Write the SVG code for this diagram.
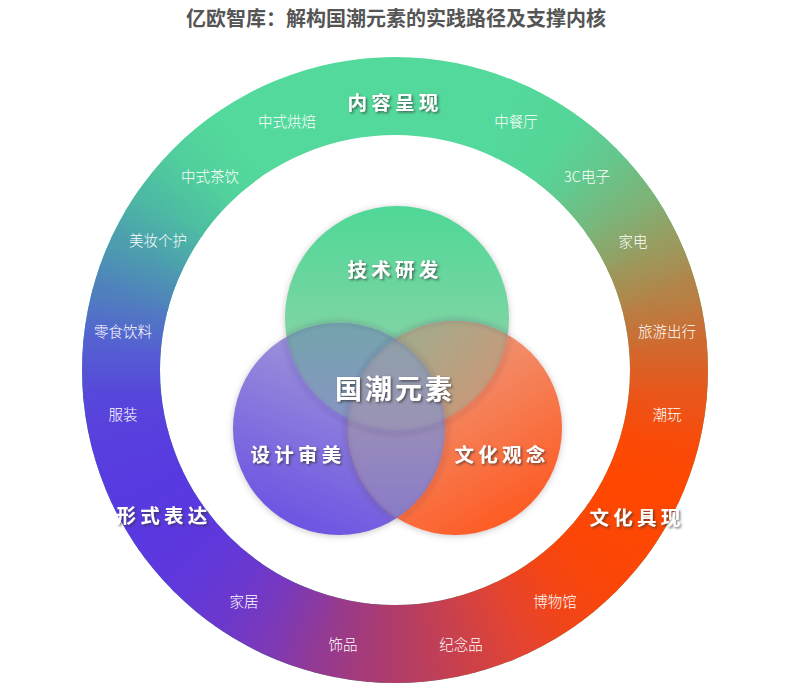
<svg xmlns="http://www.w3.org/2000/svg" width="791" height="693" viewBox="0 0 791 693">
<style>
.title{font-family:"Noto Sans CJK SC","Liberation Sans",sans-serif;font-weight:700;font-size:20px;fill:#555;}
.item{font-family:"Noto Sans CJK SC","Liberation Sans",sans-serif;font-weight:300;font-size:14.5px;fill:#fff;}
.sec{font-family:"Noto Sans CJK SC","Liberation Sans",sans-serif;font-weight:700;font-size:19.5px;fill:#fff;letter-spacing:4.3px;}
.core{font-family:"Noto Sans CJK SC","Liberation Sans",sans-serif;font-weight:700;font-size:27px;fill:#fff;letter-spacing:3px;}
text{text-anchor:middle;dominant-baseline:central;}
.edge{fill:none;stroke:#2a2a40;stroke-opacity:0.12;stroke-width:4;}
</style>
<defs>
<path id="w" d="M395,370 L365.4,51.4 L424.6,51.4 Z"/>
<clipPath id="ringClip"><path clip-rule="evenodd" d="M82,370 A313,313 0 1,0 708,370 A313,313 0 1,0 82,370 Z M160,370 A235,235 0 1,0 630,370 A235,235 0 1,0 160,370 Z"/></clipPath>
<linearGradient id="g30" gradientUnits="userSpaceOnUse" x1="371" y1="0" x2="419" y2="0"><stop offset="0" stop-color="#54D79A"/><stop offset="1" stop-color="#55D699"/></linearGradient>
<linearGradient id="g40" gradientUnits="userSpaceOnUse" x1="371" y1="0" x2="419" y2="0"><stop offset="0" stop-color="#55D699"/><stop offset="1" stop-color="#64C88E"/></linearGradient>
<linearGradient id="g50" gradientUnits="userSpaceOnUse" x1="371" y1="0" x2="419" y2="0"><stop offset="0" stop-color="#64C88E"/><stop offset="1" stop-color="#7CB479"/></linearGradient>
<linearGradient id="g60" gradientUnits="userSpaceOnUse" x1="371" y1="0" x2="419" y2="0"><stop offset="0" stop-color="#7CB479"/><stop offset="1" stop-color="#999B5F"/></linearGradient>
<linearGradient id="g70" gradientUnits="userSpaceOnUse" x1="371" y1="0" x2="419" y2="0"><stop offset="0" stop-color="#999B5F"/><stop offset="1" stop-color="#B68146"/></linearGradient>
<linearGradient id="g80" gradientUnits="userSpaceOnUse" x1="371" y1="0" x2="419" y2="0"><stop offset="0" stop-color="#B68146"/><stop offset="1" stop-color="#D1692F"/></linearGradient>
<linearGradient id="g90" gradientUnits="userSpaceOnUse" x1="371" y1="0" x2="419" y2="0"><stop offset="0" stop-color="#D1692F"/><stop offset="1" stop-color="#E8561B"/></linearGradient>
<linearGradient id="g100" gradientUnits="userSpaceOnUse" x1="371" y1="0" x2="419" y2="0"><stop offset="0" stop-color="#E8561B"/><stop offset="1" stop-color="#FA4A08"/></linearGradient>
<linearGradient id="g110" gradientUnits="userSpaceOnUse" x1="371" y1="0" x2="419" y2="0"><stop offset="0" stop-color="#FA4A08"/><stop offset="1" stop-color="#FF4700"/></linearGradient>
<linearGradient id="g120" gradientUnits="userSpaceOnUse" x1="371" y1="0" x2="419" y2="0"><stop offset="0" stop-color="#FF4700"/><stop offset="1" stop-color="#FD4704"/></linearGradient>
<linearGradient id="g130" gradientUnits="userSpaceOnUse" x1="371" y1="0" x2="419" y2="0"><stop offset="0" stop-color="#FD4704"/><stop offset="1" stop-color="#FA4608"/></linearGradient>
<linearGradient id="g140" gradientUnits="userSpaceOnUse" x1="371" y1="0" x2="419" y2="0"><stop offset="0" stop-color="#FA4608"/><stop offset="1" stop-color="#F24517"/></linearGradient>
<linearGradient id="g150" gradientUnits="userSpaceOnUse" x1="371" y1="0" x2="419" y2="0"><stop offset="0" stop-color="#F24517"/><stop offset="1" stop-color="#E44430"/></linearGradient>
<linearGradient id="g160" gradientUnits="userSpaceOnUse" x1="371" y1="0" x2="419" y2="0"><stop offset="0" stop-color="#E44430"/><stop offset="1" stop-color="#CE4147"/></linearGradient>
<linearGradient id="g170" gradientUnits="userSpaceOnUse" x1="371" y1="0" x2="419" y2="0"><stop offset="0" stop-color="#CE4147"/><stop offset="1" stop-color="#BA3E5E"/></linearGradient>
<linearGradient id="g180" gradientUnits="userSpaceOnUse" x1="371" y1="0" x2="419" y2="0"><stop offset="0" stop-color="#BA3E5E"/><stop offset="1" stop-color="#A73B76"/></linearGradient>
<linearGradient id="g190" gradientUnits="userSpaceOnUse" x1="371" y1="0" x2="419" y2="0"><stop offset="0" stop-color="#A73B76"/><stop offset="1" stop-color="#933A93"/></linearGradient>
<linearGradient id="g200" gradientUnits="userSpaceOnUse" x1="371" y1="0" x2="419" y2="0"><stop offset="0" stop-color="#933A93"/><stop offset="1" stop-color="#7C39B8"/></linearGradient>
<linearGradient id="g210" gradientUnits="userSpaceOnUse" x1="371" y1="0" x2="419" y2="0"><stop offset="0" stop-color="#7C39B8"/><stop offset="1" stop-color="#6B38CD"/></linearGradient>
<linearGradient id="g220" gradientUnits="userSpaceOnUse" x1="371" y1="0" x2="419" y2="0"><stop offset="0" stop-color="#6B38CD"/><stop offset="1" stop-color="#6038DB"/></linearGradient>
<linearGradient id="g230" gradientUnits="userSpaceOnUse" x1="371" y1="0" x2="419" y2="0"><stop offset="0" stop-color="#6038DB"/><stop offset="1" stop-color="#5B38E0"/></linearGradient>
<linearGradient id="g240" gradientUnits="userSpaceOnUse" x1="371" y1="0" x2="419" y2="0"><stop offset="0" stop-color="#5B38E0"/><stop offset="1" stop-color="#583AE1"/></linearGradient>
<linearGradient id="g250" gradientUnits="userSpaceOnUse" x1="371" y1="0" x2="419" y2="0"><stop offset="0" stop-color="#583AE1"/><stop offset="1" stop-color="#583EDE"/></linearGradient>
<linearGradient id="g260" gradientUnits="userSpaceOnUse" x1="371" y1="0" x2="419" y2="0"><stop offset="0" stop-color="#583EDE"/><stop offset="1" stop-color="#5747DA"/></linearGradient>
<linearGradient id="g270" gradientUnits="userSpaceOnUse" x1="371" y1="0" x2="419" y2="0"><stop offset="0" stop-color="#5747DA"/><stop offset="1" stop-color="#5560D2"/></linearGradient>
<linearGradient id="g280" gradientUnits="userSpaceOnUse" x1="371" y1="0" x2="419" y2="0"><stop offset="0" stop-color="#5560D2"/><stop offset="1" stop-color="#507FBE"/></linearGradient>
<linearGradient id="g290" gradientUnits="userSpaceOnUse" x1="371" y1="0" x2="419" y2="0"><stop offset="0" stop-color="#507FBE"/><stop offset="1" stop-color="#4C9EAE"/></linearGradient>
<linearGradient id="g300" gradientUnits="userSpaceOnUse" x1="371" y1="0" x2="419" y2="0"><stop offset="0" stop-color="#4C9EAE"/><stop offset="1" stop-color="#4DBBA3"/></linearGradient>
<linearGradient id="g310" gradientUnits="userSpaceOnUse" x1="371" y1="0" x2="419" y2="0"><stop offset="0" stop-color="#4DBBA3"/><stop offset="1" stop-color="#51CF9C"/></linearGradient>
<linearGradient id="g320" gradientUnits="userSpaceOnUse" x1="371" y1="0" x2="419" y2="0"><stop offset="0" stop-color="#51CF9C"/><stop offset="1" stop-color="#53D99B"/></linearGradient>

<linearGradient id="gGreen" x1="0" y1="0" x2="0" y2="1"><stop offset="0" stop-color="#4ED897"/><stop offset="0.5" stop-color="#78D5A2"/><stop offset="1" stop-color="#9CDAB5"/></linearGradient>
<linearGradient id="gPurple" x1="0.6" y1="0" x2="0.2" y2="1"><stop offset="0" stop-color="#A49ED8"/><stop offset="1" stop-color="#6A4EE3"/></linearGradient>
<linearGradient id="gOrange" x1="0.2" y1="0" x2="0.8" y2="1"><stop offset="0" stop-color="#ECA890"/><stop offset="1" stop-color="#FF561C"/></linearGradient>
<linearGradient id="lGP" gradientUnits="userSpaceOnUse" x1="0" y1="325" x2="0" y2="430"><stop offset="0" stop-color="#74A4AC"/><stop offset="1" stop-color="#8A94C6"/></linearGradient>
<linearGradient id="lGO" gradientUnits="userSpaceOnUse" x1="430" y1="330" x2="505" y2="400"><stop offset="0" stop-color="#A8A98A"/><stop offset="1" stop-color="#CE9676"/></linearGradient>
<linearGradient id="lPO" gradientUnits="userSpaceOnUse" x1="0" y1="420" x2="0" y2="530"><stop offset="0" stop-color="#9A8EB8"/><stop offset="1" stop-color="#8878CC"/></linearGradient>
<linearGradient id="lT" gradientUnits="userSpaceOnUse" x1="0" y1="330" x2="0" y2="430"><stop offset="0" stop-color="#8EA2A8"/><stop offset="1" stop-color="#9A92B6"/></linearGradient>

<clipPath id="cG"><circle cx="397" cy="318" r="112"/></clipPath>
<clipPath id="cP"><circle cx="339" cy="429" r="106"/></clipPath>
<clipPath id="cPO"><circle cx="339" cy="429" r="106"/><circle cx="455" cy="428" r="107"/></clipPath>
<clipPath id="cGO"><circle cx="397" cy="318" r="112"/><circle cx="455" cy="428" r="107"/></clipPath>
<clipPath id="cGP"><circle cx="397" cy="318" r="112"/><circle cx="339" cy="429" r="106"/></clipPath>

<filter id="cs" x="-20%" y="-20%" width="140%" height="140%">
<feGaussianBlur in="SourceAlpha" stdDeviation="3" result="b"/>
<feOffset in="b" dx="0" dy="1" result="o"/>
<feColorMatrix in="o" type="matrix" values="0 0 0 0 0.3  0 0 0 0 0.25  0 0 0 0 0.25  0 0 0 0.5 0" result="sc"/>
<feMerge><feMergeNode in="sc"/><feMergeNode in="SourceGraphic"/></feMerge>
</filter>
<filter id="eb" x="-10%" y="-10%" width="120%" height="120%"><feGaussianBlur stdDeviation="2.5"/></filter>
<filter id="ts" x="-10%" y="-30%" width="130%" height="170%"><feDropShadow dx="1.5" dy="1.5" stdDeviation="0.8" flood-color="#333" flood-opacity="0.7"/></filter>
</defs>

<rect width="791" height="693" fill="#fff"/>
<text class="title" x="396" y="17">亿欧智库：解构国潮元素的实践路径及支撑内核</text>

<g id="ring" clip-path="url(#ringClip)">
<circle cx="395" cy="370" r="320" fill="#53D99B"/>
<use href="#w" fill="url(#g30)" transform="rotate(30 395 370)"/>
<use href="#w" fill="url(#g40)" transform="rotate(40 395 370)"/>
<use href="#w" fill="url(#g50)" transform="rotate(50 395 370)"/>
<use href="#w" fill="url(#g60)" transform="rotate(60 395 370)"/>
<use href="#w" fill="url(#g70)" transform="rotate(70 395 370)"/>
<use href="#w" fill="url(#g80)" transform="rotate(80 395 370)"/>
<use href="#w" fill="url(#g90)" transform="rotate(90 395 370)"/>
<use href="#w" fill="url(#g100)" transform="rotate(100 395 370)"/>
<use href="#w" fill="url(#g110)" transform="rotate(110 395 370)"/>
<use href="#w" fill="url(#g120)" transform="rotate(120 395 370)"/>
<use href="#w" fill="url(#g130)" transform="rotate(130 395 370)"/>
<use href="#w" fill="url(#g140)" transform="rotate(140 395 370)"/>
<use href="#w" fill="url(#g150)" transform="rotate(150 395 370)"/>
<use href="#w" fill="url(#g160)" transform="rotate(160 395 370)"/>
<use href="#w" fill="url(#g170)" transform="rotate(170 395 370)"/>
<use href="#w" fill="url(#g180)" transform="rotate(180 395 370)"/>
<use href="#w" fill="url(#g190)" transform="rotate(190 395 370)"/>
<use href="#w" fill="url(#g200)" transform="rotate(200 395 370)"/>
<use href="#w" fill="url(#g210)" transform="rotate(210 395 370)"/>
<use href="#w" fill="url(#g220)" transform="rotate(220 395 370)"/>
<use href="#w" fill="url(#g230)" transform="rotate(230 395 370)"/>
<use href="#w" fill="url(#g240)" transform="rotate(240 395 370)"/>
<use href="#w" fill="url(#g250)" transform="rotate(250 395 370)"/>
<use href="#w" fill="url(#g260)" transform="rotate(260 395 370)"/>
<use href="#w" fill="url(#g270)" transform="rotate(270 395 370)"/>
<use href="#w" fill="url(#g280)" transform="rotate(280 395 370)"/>
<use href="#w" fill="url(#g290)" transform="rotate(290 395 370)"/>
<use href="#w" fill="url(#g300)" transform="rotate(300 395 370)"/>
<use href="#w" fill="url(#g310)" transform="rotate(310 395 370)"/>
<use href="#w" fill="url(#g320)" transform="rotate(320 395 370)"/>
</g>

<g id="sec-content">
<text class="sec" x="395" y="101" filter="url(#ts)">内容呈现</text>
<text class="item" x="287" y="120">中式烘焙</text>
<text class="item" x="516" y="120">中餐厅</text>
<text class="item" x="210" y="175">中式茶饮</text>
<text class="item" x="587" y="175">3C电子</text>
<text class="item" x="158" y="239">美妆个护</text>
<text class="item" x="633" y="240">家电</text>
</g>
<g id="sec-form">
<text class="sec" x="164" y="514" filter="url(#ts)">形式表达</text>
<text class="item" x="123" y="330">零食饮料</text>
<text class="item" x="123" y="413">服装</text>
<text class="item" x="244" y="600">家居</text>
<text class="item" x="343" y="643">饰品</text>
</g>
<g id="sec-culture">
<text class="sec" x="637" y="516" filter="url(#ts)">文化具现</text>
<text class="item" x="667" y="330">旅游出行</text>
<text class="item" x="667" y="413">潮玩</text>
<text class="item" x="555" y="600">博物馆</text>
<text class="item" x="461" y="643">纪念品</text>
</g>

<g id="circle-tech" filter="url(#cs)">
<circle cx="397" cy="318" r="112" fill="url(#gGreen)"/>
</g>
<g id="circle-design" filter="url(#cs)">
<circle cx="339" cy="429" r="106" fill="url(#gPurple)"/>
</g>
<g id="circle-culture" filter="url(#cs)">
<circle cx="455" cy="428" r="107" fill="url(#gOrange)"/>
</g>

<g id="venn-overlaps">
<circle cx="339" cy="429" r="106" fill="url(#lGP)" clip-path="url(#cG)"/>
<circle cx="455" cy="428" r="107" fill="url(#lGO)" clip-path="url(#cG)"/>
<circle cx="455" cy="428" r="107" fill="url(#lPO)" clip-path="url(#cP)"/>
<g clip-path="url(#cG)"><circle cx="455" cy="428" r="107" fill="url(#lT)" clip-path="url(#cP)"/></g>
<g clip-path="url(#cPO)"><circle class="edge" cx="397" cy="319" r="114" filter="url(#eb)"/></g>
<g clip-path="url(#cGO)"><circle class="edge" cx="339" cy="430" r="108" filter="url(#eb)"/></g>
<g clip-path="url(#cGP)"><circle class="edge" cx="455" cy="429" r="109" filter="url(#eb)"/></g>
</g>

<g id="venn-labels">
<text class="sec" x="395" y="268" filter="url(#ts)">技术研发</text>
<text class="sec" x="298" y="453" filter="url(#ts)">设计审美</text>
<text class="sec" x="502" y="453" filter="url(#ts)">文化观念</text>
<text class="core" x="395" y="387" filter="url(#ts)">国潮元素</text>
</g>
<g id="connectors"/>
</svg>
